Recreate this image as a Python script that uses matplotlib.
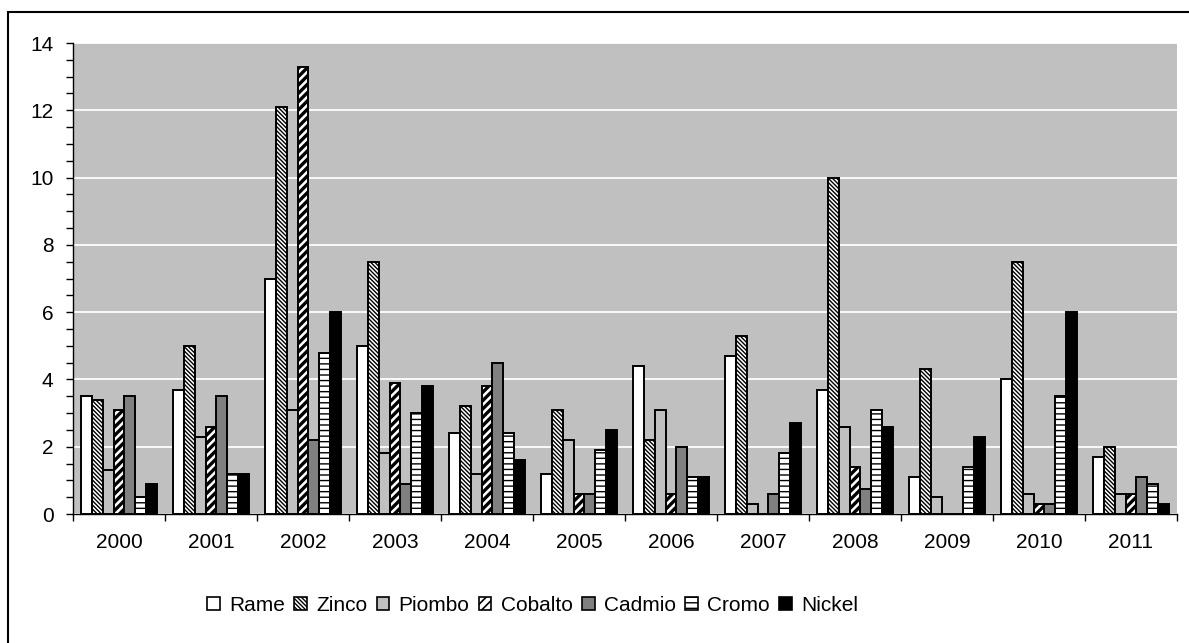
import matplotlib
matplotlib.use('Agg')
import matplotlib.pyplot as plt
from matplotlib.patches import Rectangle
from matplotlib.ticker import MultipleLocator
import numpy as np

plt.rcParams['font.family'] = ['Liberation Sans', 'DejaVu Sans']
plt.rcParams['hatch.linewidth'] = 0.8

# dati
anni = ['2000', '2001', '2002', '2003', '2004', '2005',
        '2006', '2007', '2008', '2009', '2010', '2011']
rame    = [3.5, 3.7, 7.0, 5.0, 2.4, 1.2, 4.4, 4.7, 3.7, 1.1, 4.0, 1.7]
zinco   = [3.4, 5.0, 12.1, 7.5, 3.2, 3.1, 2.2, 5.3, 10.0, 4.3, 7.5, 2.0]
piombo  = [1.3, 2.3, 3.1, 1.8, 1.2, 2.2, 3.1, 0.3, 2.6, 0.5, 0.6, 0.6]
cobalto = [3.1, 2.6, 13.3, 3.9, 3.8, 0.6, 0.6, 0.0, 1.4, 0.0, 0.3, 0.6]
cadmio  = [3.5, 3.5, 2.2, 0.9, 4.5, 0.6, 2.0, 0.6, 0.75, 0.0, 0.3, 1.1]
cromo   = [0.5, 1.2, 4.8, 3.0, 2.4, 1.9, 1.1, 1.8, 3.1, 1.4, 3.5, 0.9]
nickel  = [0.9, 1.2, 6.0, 3.8, 1.6, 2.5, 1.1, 2.7, 2.6, 2.3, 6.0, 0.3]

# nome, valori, colore, tratteggio, spessore tratteggio
serie = [
    ('Rame', rame, 'white', None, 0.8),
    ('Zinco', zinco, 'white', '\\' * 8, 1.0),
    ('Piombo', piombo, '#c0c0c0', None, 0.8),
    ('Cobalto', cobalto, 'white', '/' * 4, 2.4),
    ('Cadmio', cadmio, '#808080', None, 0.8),
    ('Cromo', cromo, 'white', '---', 1.0),
    ('Nickel', nickel, 'black', None, 0.8),
]

fig = plt.figure(figsize=(11.89, 6.43), dpi=100)
ax = fig.add_axes([0.0614, 0.2006, 0.9285, 0.7325])
ax.set_facecolor('#c0c0c0')

x = np.arange(len(anni))
w = 0.118
for j, (nome, vals, col, hatch, hlw) in enumerate(serie):
    with plt.rc_context({'hatch.linewidth': hlw}):
        bars = ax.bar(x + (j - 3) * w, vals, w, color=col, edgecolor='black',
                      linewidth=1.4, hatch=hatch, label=nome, zorder=3)
    for b in bars:
        if hasattr(b, 'set_hatch_linewidth'):
            b.set_hatch_linewidth(hlw)

ax.set_xlim(-0.5, len(anni) - 0.5)
ax.set_ylim(0, 14)
ax.yaxis.set_major_locator(MultipleLocator(2))
ax.yaxis.set_minor_locator(MultipleLocator(0.5))
ax.set_xticks(x)
ax.set_xticklabels(anni)
ax.set_xticks(np.arange(-0.5, len(anni)), minor=True)
ax.tick_params(axis='x', which='major', length=0, pad=14, labelsize=15)
ax.tick_params(axis='x', which='minor', length=5, width=1, direction='out')
ax.tick_params(axis='y', which='both', length=5, width=1, direction='out',
               labelsize=15, pad=9)
ax.grid(axis='y', which='major', color='white', linewidth=1.3, zorder=1)
ax.set_axisbelow(True)
for s in ['top', 'right']:
    ax.spines[s].set_visible(False)
ax.spines['left'].set_linewidth(1)
ax.spines['bottom'].set_linewidth(1)

leg = fig.legend(loc='center', bbox_to_anchor=(0.448, 0.058), ncol=7,
                 frameon=False, fontsize=15, handlelength=0.6,
                 handleheight=0.6, handletextpad=0.45, columnspacing=0.45,
                 borderaxespad=0)
for h, s in zip(leg.legend_handles, serie):
    h.set_linewidth(1.2)
    if hasattr(h, 'set_hatch_linewidth'):
        h.set_hatch_linewidth(min(s[4], 1.2))

# cornice del grafico (tagliata a destra e in basso)
fig.patches.append(Rectangle((8 / 1189, -0.1), 1.2, 1.1 - 12 / 643,
                             transform=fig.transFigure, fill=False,
                             edgecolor='black', linewidth=1.5))

fig.savefig('out.png', dpi=100)
